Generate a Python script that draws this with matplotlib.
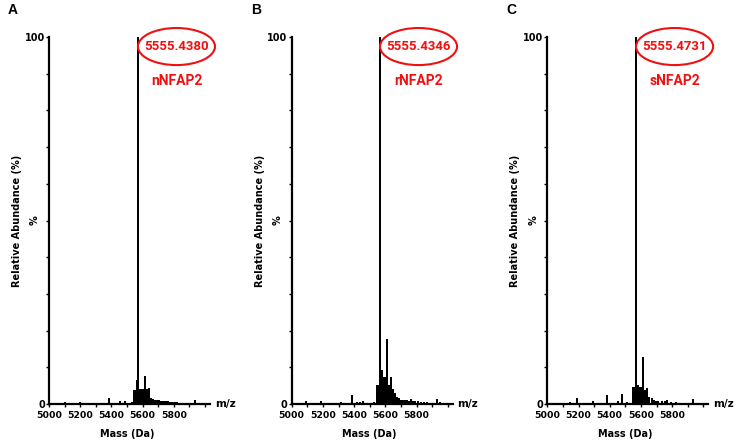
import numpy as np
import matplotlib
matplotlib.use("Agg")
import matplotlib.pyplot as plt
from matplotlib.patches import Ellipse

plt.rcParams['font.family'] = ['DejaVu Sans']

# -------------------------------------------------------
# Data (m/z, relative abundance %)
# -------------------------------------------------------
panel_letters = ["A", "B", "C"]
sample_names = ["nNFAP2", "rNFAP2", "sNFAP2"]
peak_labels = ["5555.4380", "5555.4346", "5555.4731"]
peak_mass = [5572, 5568, 5571]

mass_n = [5050, 5100, 5150, 5200, 5250, 5290, 5330, 5385, 5420, 5455, 5470, 5487,
          5510, 5530, 5547, 5555, 5562, 5572, 5583, 5594, 5604, 5615, 5626, 5634,
          5641, 5654, 5666, 5678, 5690, 5702, 5714, 5726, 5738, 5750, 5762, 5774,
          5786, 5798, 5810, 5822, 5834, 5846, 5858, 5870, 5882, 5920, 5936, 5957, 5990]
abund_n = [0.3, 0.6, 0.3, 0.6, 0.3, 0.4, 0.3, 1.6, 0.4, 0.7, 0.4, 0.9,
           0.4, 0.5, 3.9, 3.9, 6.6, 100, 4.1, 4.1, 4.1, 7.7, 4.1, 4.2,
           4.4, 1.6, 1.4, 1.2, 1.1, 1.0, 0.9, 0.85, 0.8, 0.75, 0.7, 0.6,
           0.55, 0.5, 0.5, 0.45, 0.4, 0.4, 0.35, 0.3, 0.3, 0.4, 1.2, 0.4, 0.2]

mass_r = [5050, 5090, 5150, 5190, 5250, 5290, 5316, 5350, 5385, 5420, 5440, 5457,
          5480, 5510, 5530, 5545, 5558, 5568, 5577, 5587, 5600, 5613, 5626, 5638,
          5651, 5664, 5677, 5690, 5702, 5714, 5726, 5738, 5750, 5763, 5776, 5790,
          5810, 5830, 5850, 5870, 5900, 5933, 5950, 5980]
abund_r = [0.3, 0.8, 0.3, 0.9, 0.3, 0.4, 0.6, 0.4, 2.5, 0.5, 0.5, 0.8,
           0.4, 0.4, 0.5, 5.2, 5.2, 100, 9.3, 7.3, 7.4, 17.6, 5.2, 7.4,
           4.2, 3.0, 2.0, 1.5, 1.2, 1.1, 1.0, 1.0, 0.9, 1.3, 0.9, 0.8,
           0.7, 0.6, 0.5, 0.5, 0.4, 1.4, 0.5, 0.2]

mass_s = [5050, 5092, 5145, 5192, 5240, 5292, 5340, 5385, 5420, 5453, 5481, 5513,
          5530, 5549, 5562, 5571, 5583, 5596, 5605, 5613, 5626, 5638, 5651, 5669,
          5681, 5694, 5710, 5737, 5753, 5769, 5790, 5822, 5860, 5900, 5933, 5960, 5990]
abund_s = [0.2, 0.4, 0.5, 1.5, 0.3, 0.8, 0.3, 2.5, 0.4, 0.9, 2.7, 0.6,
           0.4, 4.7, 4.7, 100, 5.2, 4.5, 4.5, 12.9, 3.8, 4.3, 2.0, 1.5,
           1.1, 0.9, 0.7, 0.7, 0.8, 1.0, 0.6, 0.5, 0.3, 0.3, 1.4, 0.3, 0.2]

spectra = [(mass_n, abund_n), (mass_r, abund_r), (mass_s, abund_s)]

x_major = [5000, 5200, 5400, 5600, 5800]
x_minor = list(range(5000, 6001, 100))
y_ticks = list(range(0, 101, 10))

RED = "#f01010"
RED_FONT = ['Roboto', 'DejaVu Sans']

# -------------------------------------------------------
# Figure layout (pixel based, 737 x 443)
# -------------------------------------------------------
W, H = 737, 443
fig = plt.figure(figsize=(W / 100, H / 100), dpi=100)

axis_left_px = [49, 291.7, 547.3]
ax_w_px = 161
ax_bottom_px = 404
ax_top_px = 37

for i, (mass, abund) in enumerate(spectra):
    left = axis_left_px[i] / W
    ax = fig.add_axes([left, (H - ax_bottom_px) / H, ax_w_px / W,
                       (ax_bottom_px - ax_top_px) / H])

    ax.bar(mass, abund, width=13, color="black", linewidth=0)

    ax.set_xlim(5000, 6032)
    ax.set_ylim(0, 100)

    for s in ["top", "right"]:
        ax.spines[s].set_visible(False)
    for s in ["left", "bottom"]:
        ax.spines[s].set_linewidth(1.6)

    ax.set_xticks(x_major)
    ax.set_xticklabels([str(v) for v in x_major], fontsize=6.7, fontweight="bold")
    ax.set_xticks(x_minor, minor=True)
    ax.tick_params(axis="x", which="both", direction="out", length=2.5, width=1, pad=2.5)

    ax.set_yticks(y_ticks)
    ax.set_yticklabels(["0"] + [""] * 9 + ["100"], fontsize=7, fontweight="bold")
    ax.tick_params(axis="y", direction="out", length=2.5, width=1, pad=0.5)

    # axis texts
    ax.text(1.03, 0, "m/z", transform=ax.transAxes, ha="left", va="center",
            fontsize=7.5, fontweight="bold")
    ax.text(0.484, -0.082, "Mass (Da)", transform=ax.transAxes, ha="center",
            va="center", fontsize=7, fontweight="bold")
    ax.text(-0.087, 0.5, "%", transform=ax.transAxes, ha="center", va="center",
            rotation=90, fontsize=7, fontweight="bold")
    ax.text(-0.199, 0.5, "Relative Abundance (%)", transform=ax.transAxes,
            ha="center", va="center", rotation=90, fontsize=7, fontweight="bold")

    # red circled peak annotation
    cx = peak_mass[i] + 245
    ax.add_patch(Ellipse((cx, 97.4), 494, 10.1, fill=False, edgecolor=RED,
                         linewidth=1.5, clip_on=False))
    ax.text(cx, 97.4, peak_labels[i], ha="center", va="center", color=RED,
            fontsize=9.5, fontweight="bold", family=RED_FONT, clip_on=False)
    ax.text(cx, 88.0, sample_names[i], ha="center", va="center", color=RED,
            fontsize=10, fontweight="bold", family=RED_FONT)

    fig.text((axis_left_px[i] - 36) / W, 1 - 10 / H, panel_letters[i],
             ha="center", va="center", fontsize=10, fontweight="bold",
             family=['Liberation Sans', 'DejaVu Sans'])

fig.savefig("out.png", dpi=100)
